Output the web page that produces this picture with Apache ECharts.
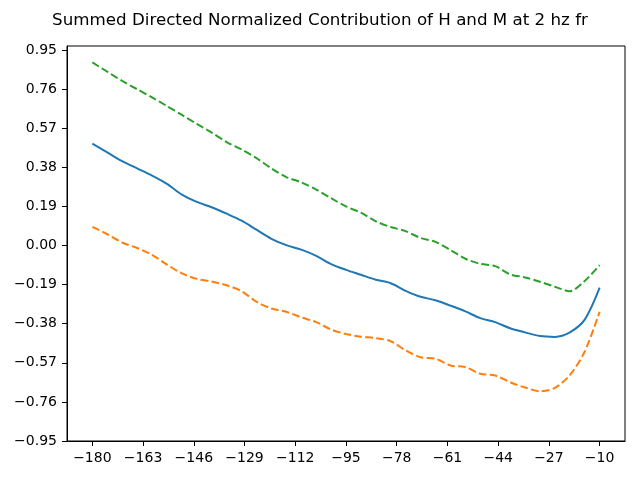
<!DOCTYPE html>
<html>
<head>
<meta charset="utf-8">
<script src="https://cdn.jsdelivr.net/npm/echarts@6/dist/echarts.min.js"></script>
<style>
  html, body { margin: 0; padding: 0; background: #fff; }
  #chart-container { width: 640px; height: 480px; }
</style>
</head>
<body>
<div id="chart-container"></div>
<script>
var titleText = "Summed Directed Normalized Contribution of H and M at 2 hz fr";

var xs = [-180, -175, -170, -165, -160, -155, -150, -145, -140, -135, -130, -125,
  -120, -115, -110, -105, -100, -95, -90, -85, -80, -75, -70, -65, -60, -55, -50,
  -45, -40, -35, -30, -25, -20, -15, -10];

// mean (solid blue)
var meanVals = [0.495, 0.453, 0.410, 0.375, 0.340, 0.300, 0.248, 0.212, 0.186, 0.155,
  0.121, 0.077, 0.033, 0.002, -0.020, -0.050, -0.090, -0.118, -0.142, -0.166, -0.183,
  -0.220, -0.249, -0.266, -0.292, -0.320, -0.353, -0.372, -0.402, -0.422, -0.440,
  -0.444, -0.422, -0.360, -0.205];

// lower bound (orange dashed)
var lowerVals = [0.091, 0.055, 0.015, -0.012, -0.045, -0.093, -0.135, -0.162, -0.175,
  -0.193, -0.222, -0.273, -0.306, -0.322, -0.349, -0.372, -0.408, -0.430, -0.443,
  -0.450, -0.465, -0.510, -0.543, -0.550, -0.583, -0.591, -0.623, -0.632, -0.664,
  -0.690, -0.708, -0.692, -0.630, -0.515, -0.322];

// upper bound (green dashed)
var upperVals = [0.890, 0.845, 0.800, 0.760, 0.720, 0.678, 0.635, 0.591, 0.549, 0.503,
  0.467, 0.425, 0.375, 0.333, 0.307, 0.272, 0.230, 0.190, 0.160, 0.118, 0.090, 0.070,
  0.037, 0.018, -0.022, -0.064, -0.089, -0.100, -0.140, -0.155, -0.176, -0.200,
  -0.222, -0.172, -0.095];

var xTicks = [-180, -163, -146, -129, -112, -95, -78, -61, -44, -27, -10];
var yTicks = [-0.95, -0.76, -0.57, -0.38, -0.19, 0.00, 0.19, 0.38, 0.57, 0.76, 0.95];

function pairs(vals) {
  return xs.map(function (x, i) { return [x, vals[i]]; });
}

var font = "DejaVu Sans";
var dom = document.getElementById("chart-container");
var myChart = echarts.init(dom, null, { renderer: "canvas" });

var axisCommon = {
  axisLine: { show: true, onZero: false, lineStyle: { color: "#000", width: 1 } },
  splitLine: { show: false }
};

var option = {
  animation: false,
  backgroundColor: "#fff",
  title: {
    text: titleText,
    left: "center",
    top: 7,
    textStyle: { fontFamily: font, fontSize: 16.7, fontWeight: "normal", color: "#000" }
  },
  grid: {
    left: 67, right: 15, top: 46, bottom: 39,
    show: true, borderColor: "#000", borderWidth: 1
  },
  xAxis: Object.assign({}, axisCommon, {
    type: "value",
    min: -188.5,
    max: -1.5,
    axisTick: { show: true, customValues: xTicks, length: 5, lineStyle: { color: "#000" } },
    axisLabel: {
      customValues: xTicks,
      margin: 10,
      fontFamily: font, fontSize: 14, color: "#000",
      formatter: function (v) { return String(v).replace("-", "\u2212"); }
    }
  }),
  yAxis: Object.assign({}, axisCommon, {
    type: "value",
    min: -0.95,
    max: 0.97,
    axisTick: { show: true, customValues: yTicks, length: 5, lineStyle: { color: "#000" } },
    axisLabel: {
      customValues: yTicks,
      margin: 10,
      fontFamily: font, fontSize: 14, color: "#000",
      formatter: function (v) { return v.toFixed(2).replace("-", "\u2212"); }
    }
  }),
  series: [
    {
      name: "mean", type: "line", data: pairs(meanVals), showSymbol: false, smooth: 0.3,
      lineStyle: { color: "#1f77b4", width: 2 }
    },
    {
      name: "lower", type: "line", data: pairs(lowerVals), showSymbol: false, smooth: 0.3,
      lineStyle: { color: "#ff7f0e", width: 2, type: [7.7, 3.3] }
    },
    {
      name: "upper", type: "line", data: pairs(upperVals), showSymbol: false, smooth: 0.3,
      lineStyle: { color: "#2ca02c", width: 2, type: [7.7, 3.3] }
    }
  ]
};

myChart.setOption(option);
</script>
</body>
</html>
